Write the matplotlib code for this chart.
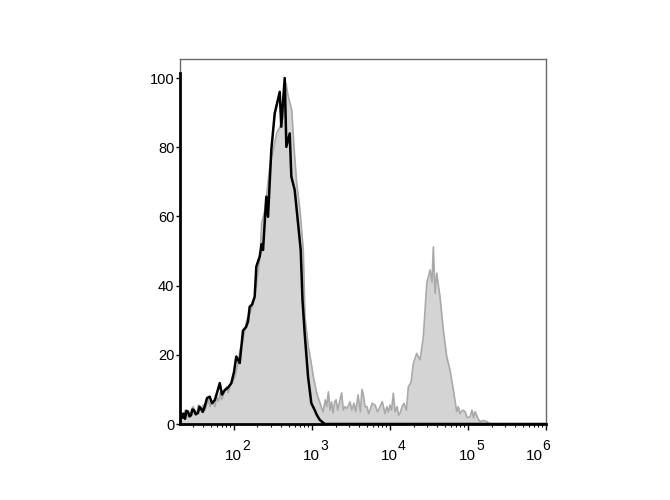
import numpy as np
import matplotlib
matplotlib.use("Agg")
import matplotlib.pyplot as plt
from matplotlib.ticker import LogLocator, NullFormatter, FixedLocator

plt.rcParams["font.family"] = ["Liberation Sans", "DejaVu Sans"]

# DATA (log10 of fluorescence, % of max)
stained_log = [
    1.308, 1.33, 1.35, 1.375, 1.397, 1.415, 1.436, 1.46, 1.478, 1.50,
    1.526, 1.545, 1.564, 1.585, 1.606, 1.63, 1.654, 1.672, 1.692, 1.71,
    1.731, 1.755, 1.778, 1.80, 1.821, 1.84, 1.859, 1.88, 1.906, 1.925,
    1.949, 1.98, 2.013, 2.045, 2.077, 2.115, 2.163,
    2.205, 2.247, 2.291, 2.333, 2.355, 2.397, 2.462, 2.504, 2.547, 2.590,
    2.632, 2.667, 2.692, 2.740, 2.769, 2.804, 2.846, 2.888, 2.910, 2.953,
    2.987, 3.017, 3.060, 3.103, 3.141, 3.17, 3.188, 3.21, 3.231, 3.25,
    3.269, 3.29, 3.308, 3.33, 3.359, 3.38, 3.40, 3.423, 3.45, 3.487,
    3.51, 3.538, 3.56, 3.590, 3.62, 3.64, 3.658, 3.68, 3.705, 3.725,
    3.744, 3.77, 3.808, 3.84, 3.872, 3.90, 3.936, 3.96, 3.98, 4.0,
    4.02, 4.042, 4.065, 4.090, 4.11, 4.128, 4.155, 4.179, 4.21, 4.235,
    4.269, 4.299, 4.342, 4.385, 4.427, 4.471, 4.513, 4.538, 4.555, 4.577,
    4.599, 4.62, 4.641, 4.683, 4.727, 4.769, 4.812, 4.855, 4.875, 4.897,
    4.93, 4.962, 4.99, 5.026, 5.051, 5.07, 5.090, 5.128, 5.154, 5.20,
    5.240, 5.282, 6.0,
]
stained_pct = [
    1.5, 3.0, 2.1, 4.0, 3.5, 2.0, 2.5, 4.5, 5.0, 3.0,
    3.5, 5.5, 4.5, 3.5, 5.5, 4.0, 6.0, 7.0, 5.0, 6.0,
    6.5, 5.0, 7.9, 6.5, 9.0, 7.0, 8.0, 9.5, 10.8, 9.0,
    11.0, 12.0, 13.7, 17.0, 21.4, 24.0, 30.0,
    32.0, 34.9, 40.7, 48.4, 58.0, 62.0, 75.0, 79.2, 84.0, 86.0,
    88.8, 98.5, 95.0, 90.8, 80.0, 69.6, 61.8, 50.3, 31.0, 22.3,
    18.0, 13.7, 8.9, 6.0, 3.5, 7.0, 5.0, 9.3, 4.0, 6.4,
    3.2, 6.4, 7.0, 4.0, 7.0, 9.0, 4.0, 5.0, 4.5, 6.4,
    4.0, 6.0, 3.5, 8.4, 3.5, 10.0, 8.4, 5.0, 5.0, 3.0,
    4.0, 6.0, 5.5, 3.5, 5.0, 6.5, 3.0, 5.0, 3.5, 5.5,
    4.0, 8.9, 3.5, 5.0, 2.5, 3.1, 5.0, 6.0, 4.0, 10.8,
    12.0, 17.5, 20.4, 18.5, 25.2, 40.7, 44.5, 41.0, 51.2, 37.8,
    43.6, 40.0, 36.8, 27.2, 19.5, 15.6, 9.8, 3.6, 5.0, 3.0,
    4.0, 3.6, 1.8, 2.1, 4.0, 1.8, 3.6, 1.5, 0.7, 1.0,
    0.7, 0.0, 0.0,
]

control_log = [
    1.308, 1.324, 1.34, 1.356, 1.372, 1.39, 1.410, 1.43, 1.449, 1.468,
    1.487, 1.51, 1.538, 1.557, 1.577, 1.60, 1.624, 1.654,
    1.688, 1.718, 1.753, 1.782, 1.817, 1.846, 1.881, 1.923, 1.965, 2.0,
    2.029, 2.073, 2.115, 2.154, 2.179, 2.201, 2.231, 2.265, 2.286, 2.329,
    2.355, 2.372, 2.414, 2.436, 2.478, 2.522, 2.586, 2.606, 2.650, 2.671,
    2.714, 2.735, 2.778, 2.821, 2.855, 2.878, 2.906, 2.949, 2.991, 3.035,
    3.064, 3.099, 3.163, 6.0,
]
control_pct = [
    2.0, 3.1, 1.8, 3.0, 1.5, 3.8, 3.6, 2.2, 2.5, 4.2,
    4.0, 2.8, 3.2, 5.0, 4.5, 3.5, 5.0, 7.5,
    7.9, 6.0, 6.9, 9.0, 11.8, 8.5, 9.8, 10.5, 11.8, 15.0,
    19.5, 17.6, 27.0, 28.0, 29.6, 33.9, 34.5, 36.8, 45.5, 48.4,
    52.0, 50.3, 65.7, 59.9, 79.2, 89.8, 96.0, 85.9, 100.0, 80.1,
    84.0, 71.5, 67.6, 58.0, 50.3, 35.8, 26.2, 13.7, 6.0, 4.0,
    2.5, 1.2, 0.0, 0.0,
]

y_ticks = [0, 20, 40, 60, 80, 100]
x_decades = [2, 3, 4, 5, 6]

stained_x = 10 ** np.array(stained_log)
control_x = 10 ** np.array(control_log)
x_ticks = [10.0 ** d for d in x_decades]

# PLOT
fig = plt.figure(figsize=(6.7, 5.0), dpi=100)
ax = fig.add_axes([0.2687, 0.152, 0.5463, 0.730])

ax.fill_between(stained_x, 0, stained_pct, color="#d4d4d4", linewidth=0)
ax.plot(stained_x, stained_pct, color="#a9a9a9", linewidth=1.2)
ax.plot(control_x, control_pct, color="black", linewidth=1.8)

ax.set_xscale("log")
ax.set_xlim(10 ** 1.308, 1e6)
ax.set_ylim(0, 105.5)

# TICKS
ax.xaxis.set_major_locator(FixedLocator(x_ticks))
ax.xaxis.set_major_formatter(NullFormatter())
ax.xaxis.set_minor_locator(LogLocator(base=10, subs=np.arange(2, 10)))
ax.xaxis.set_minor_formatter(NullFormatter())
ax.set_yticks(y_ticks)

ax.tick_params(axis="x", which="major", direction="out", length=4, width=1)
ax.tick_params(axis="x", which="minor", direction="out", length=2, width=0.8)
ax.tick_params(axis="y", which="major", direction="out", length=3,
               width=1, pad=1, labelsize=10.5)
ax.tick_params(axis="y", which="minor", left=False)

# x labels: "10" with a large raised exponent (last one pulled inside)
trans = ax.get_xaxis_transform()
for tick, dec in zip(x_ticks, x_decades):
    dx = 5.8 if dec != x_decades[-1] else -2.5
    ax.annotate("10", xy=(tick, 0), xycoords=trans,
                xytext=(dx, -26), textcoords="offset points",
                ha="right", va="baseline", fontsize=11, annotation_clip=False)
    ax.annotate(str(dec), xy=(tick, 0), xycoords=trans,
                xytext=(dx, -18.5), textcoords="offset points",
                ha="left", va="baseline", fontsize=10, annotation_clip=False)

# SPINES
for side in ["top", "right"]:
    ax.spines[side].set_color("#6a6a6a")
    ax.spines[side].set_linewidth(1.0)

ax.spines["bottom"].set_color("black")
ax.spines["bottom"].set_linewidth(2.0)
ax.spines["left"].set_color("black")
ax.spines["left"].set_linewidth(2.0)
ax.spines["left"].set_bounds(0, 101.5)

ax.plot([0, 0], [101.5 / 105.5, 1], transform=ax.transAxes,
        color="#6a6a6a", linewidth=1.0, clip_on=False)

plt.savefig("out.png", dpi=100)
